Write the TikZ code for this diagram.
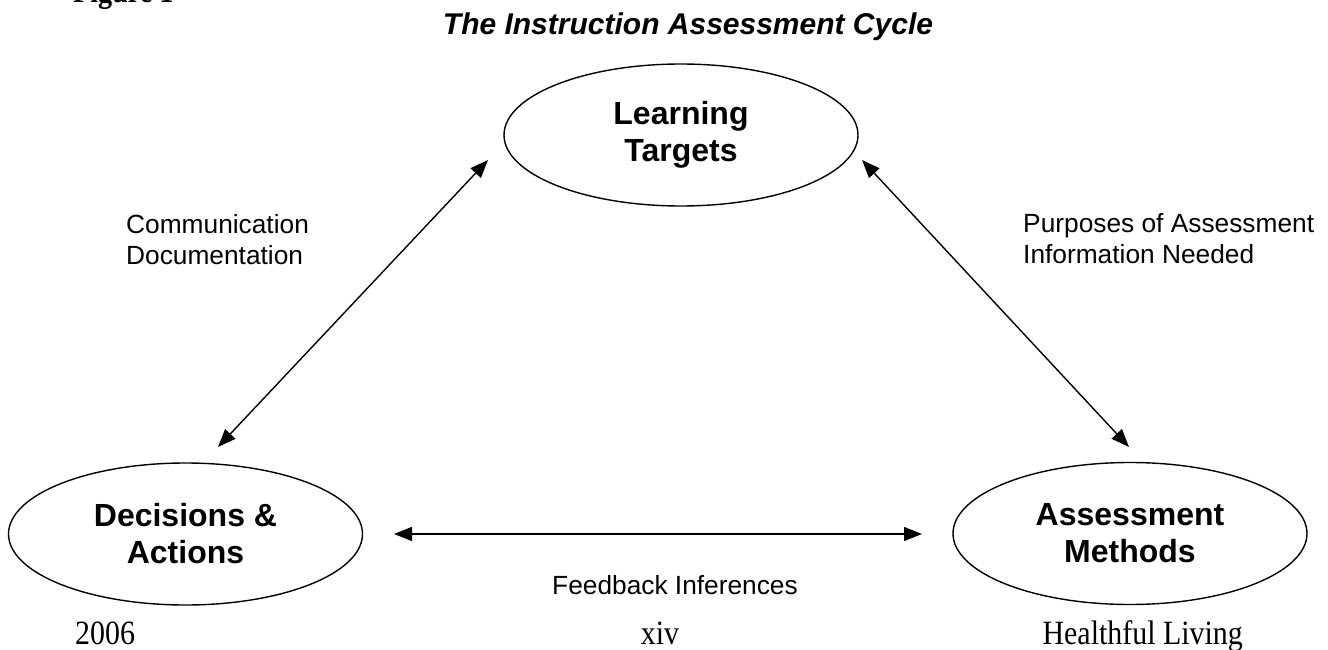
\documentclass[tikz,border=0pt]{standalone}
\usepackage{fontspec}
\setmainfont{Liberation Sans}
\newfontfamily\timesfont{Liberation Serif}
\usetikzlibrary{arrows.meta,shapes.geometric}
\begin{document}
\begin{tikzpicture}[x=1pt,y=-1pt,
  oval/.style={draw, line width=1.4pt, ellipse, minimum width=354pt, minimum height=142pt,
    inner sep=0pt, align=center, font=\fontsize{32}{37}\selectfont\bfseries},
  tip/.tip={Triangle[length=18pt,width=14pt]},
  link/.style={line width=1.4pt, tip-tip},
  lbl/.style={inner sep=0pt, align=left, font=\fontsize{26.3}{30.3}\selectfont},
  foot/.style={inner sep=0pt, font=\timesfont\fontsize{34}{34}\selectfont, xscale=0.88}]
\useasboundingbox (0,0) rectangle (1328,650);
% page heading and title
\node[inner sep=0pt, anchor=base west, font=\timesfont\bfseries\fontsize{32}{32}\selectfont, xscale=0.88] (fig) at (73,3) {Figure 1};
\node[inner sep=0pt, anchor=base, font=\fontsize{30}{30}\selectfont\bfseries\itshape] (title) at (688,35) {The Instruction Assessment Cycle};
% the three stages of the cycle
\node[oval] (lt) at (681,135) {Learning\\Targets};
\node[oval] (da) at (185.5,534) {Decisions \&\\Actions};
\node[oval] (am) at (1130,533.5) {Assessment\\Methods};
% free ends of the double arrows
\coordinate (l1) at (488,160);
\coordinate (l2) at (218,447);
\coordinate (r1) at (862,160);
\coordinate (r2) at (1129,447);
\coordinate (h1) at (394,534);
\coordinate (h2) at (922,534);
\draw[link] (l1) -- (l2);
\draw[link] (r1) -- (r2);
\draw[link] (h1) -- (h2);
% arrow labels (base anchor = baseline of the last line)
\node[lbl, anchor=base west] (comm) at (126,264) {Communication\\Documentation};
\node[lbl, anchor=base west] (purp) at (1023,263) {Purposes of Assessment\\Information Needed};
\node[lbl, anchor=base] (feed) at (675,594) {Feedback Inferences};
% page footer
\node[foot, anchor=base west] (year) at (75,644) {2006};
\node[foot, anchor=base] (page) at (660,644) {xiv};
\node[foot, anchor=base east] (subj) at (1243,644) {Healthful Living};
\end{tikzpicture}
\end{document}
